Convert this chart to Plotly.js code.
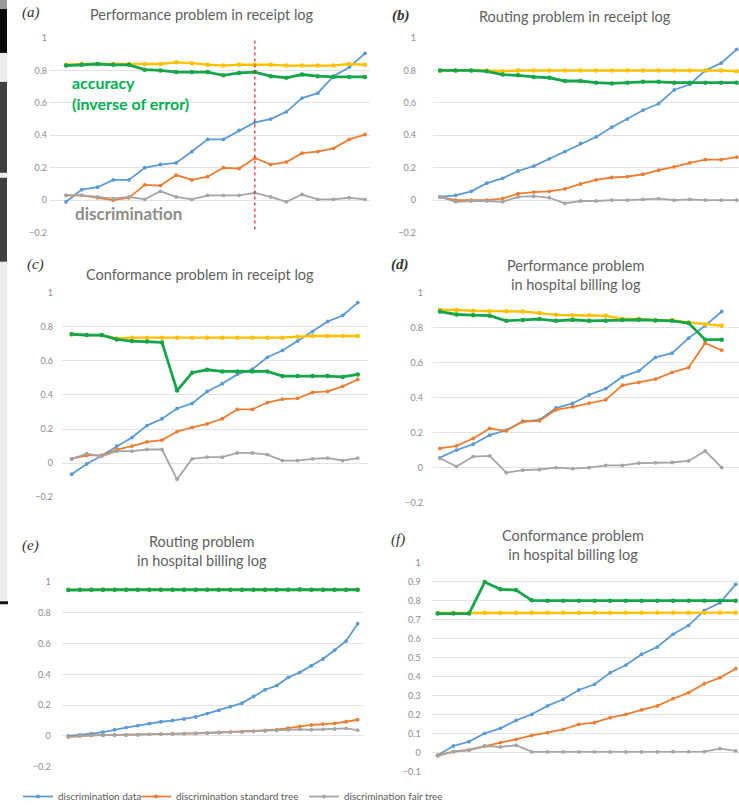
<!DOCTYPE html>
<html>
<head>
<meta charset="utf-8">
<script src="https://cdn.plot.ly/plotly-3.0.1.min.js"></script>
<style>
html,body{margin:0;padding:0;background:#fff;}
#chart{width:739px;height:811px;}
</style>
</head>
<body>
<div id="chart"></div>
<script>
// ---------- data ----------
const seriesNames = ["discrimination data", "discrimination standard tree", "discrimination fair tree", "accuracy standard tree", "accuracy fair tree"];

// (a) Performance problem in receipt log
const a_blue   = [-0.01, 0.065, 0.08, 0.125, 0.125, 0.2, 0.22, 0.23, 0.3, 0.375, 0.375, 0.43, 0.48, 0.5, 0.545, 0.63, 0.66, 0.765, 0.82, 0.905];
const a_orange = [0.03, 0.03, 0.015, 0.0, 0.015, 0.095, 0.09, 0.155, 0.125, 0.145, 0.2, 0.195, 0.26, 0.22, 0.235, 0.29, 0.3, 0.32, 0.375, 0.405];
const a_gray   = [0.03, 0.03, 0.02, 0.01, 0.02, 0.005, 0.055, 0.02, 0.005, 0.03, 0.03, 0.03, 0.045, 0.02, -0.01, 0.035, 0.005, 0.005, 0.015, 0.005];
const a_yellow = [0.835, 0.84, 0.84, 0.84, 0.84, 0.84, 0.84, 0.85, 0.845, 0.835, 0.83, 0.835, 0.835, 0.835, 0.83, 0.83, 0.83, 0.83, 0.84, 0.835];
const a_green  = [0.83, 0.835, 0.84, 0.835, 0.835, 0.805, 0.8, 0.79, 0.79, 0.79, 0.77, 0.785, 0.79, 0.765, 0.755, 0.775, 0.765, 0.76, 0.76, 0.76];
const a_splitIndex = 12;

// (b) Routing problem in receipt log
const b_blue   = [0.02, 0.03, 0.055, 0.105, 0.135, 0.18, 0.21, 0.255, 0.3, 0.35, 0.39, 0.45, 0.5, 0.555, 0.595, 0.68, 0.715, 0.8, 0.845, 0.93];
const b_orange = [0.02, 0.0, 0.0, 0.0, 0.01, 0.04, 0.05, 0.055, 0.07, 0.1, 0.125, 0.14, 0.145, 0.16, 0.185, 0.205, 0.23, 0.25, 0.25, 0.265];
const b_gray   = [0.02, -0.01, -0.005, -0.005, -0.01, 0.02, 0.025, 0.015, -0.02, -0.005, -0.005, 0.0, 0.0, 0.005, 0.01, 0.0, 0.005, 0.0, 0.0, 0.0];
const b_yellow = [0.8, 0.8, 0.8, 0.8, 0.795, 0.8, 0.8, 0.8, 0.8, 0.8, 0.8, 0.8, 0.8, 0.8, 0.8, 0.8, 0.8, 0.8, 0.8, 0.795];
const b_green  = [0.8, 0.8, 0.8, 0.795, 0.775, 0.77, 0.76, 0.755, 0.735, 0.735, 0.725, 0.72, 0.725, 0.73, 0.73, 0.725, 0.725, 0.725, 0.725, 0.725];

// (c) Conformance problem in receipt log
const c_blue   = [-0.065, -0.005, 0.045, 0.1, 0.15, 0.22, 0.26, 0.32, 0.35, 0.42, 0.465, 0.52, 0.55, 0.62, 0.66, 0.715, 0.77, 0.83, 0.865, 0.94];
const c_orange = [0.025, 0.045, 0.045, 0.08, 0.1, 0.125, 0.135, 0.185, 0.21, 0.23, 0.26, 0.315, 0.315, 0.355, 0.375, 0.38, 0.415, 0.42, 0.45, 0.49];
const c_gray   = [0.025, 0.055, 0.04, 0.07, 0.07, 0.08, 0.08, -0.095, 0.025, 0.035, 0.035, 0.06, 0.06, 0.05, 0.015, 0.015, 0.025, 0.03, 0.015, 0.03];
const c_yellow = [0.755, 0.75, 0.75, 0.73, 0.735, 0.735, 0.735, 0.735, 0.735, 0.735, 0.735, 0.735, 0.735, 0.735, 0.735, 0.74, 0.745, 0.745, 0.745, 0.745];
const c_green  = [0.755, 0.75, 0.75, 0.725, 0.715, 0.713, 0.707, 0.425, 0.53, 0.547, 0.537, 0.537, 0.537, 0.537, 0.51, 0.51, 0.51, 0.51, 0.505, 0.52];

// (d) Performance problem in hospital billing log
const d_blue   = [0.057, 0.1, 0.133, 0.185, 0.213, 0.263, 0.272, 0.34, 0.366, 0.415, 0.451, 0.518, 0.552, 0.629, 0.653, 0.739, 0.81, 0.891];
const d_orange = [0.109, 0.124, 0.166, 0.223, 0.21, 0.263, 0.267, 0.33, 0.347, 0.368, 0.387, 0.47, 0.486, 0.505, 0.543, 0.571, 0.71, 0.67];
const d_gray   = [0.053, 0.006, 0.063, 0.067, -0.029, -0.015, -0.011, 0.0, -0.006, 0.0, 0.013, 0.013, 0.025, 0.027, 0.029, 0.038, 0.095, 0.0];
const d_yellow = [0.9, 0.9, 0.895, 0.893, 0.893, 0.891, 0.882, 0.872, 0.87, 0.87, 0.867, 0.848, 0.848, 0.842, 0.842, 0.829, 0.819, 0.81];
const d_green  = [0.891, 0.874, 0.87, 0.867, 0.838, 0.842, 0.848, 0.838, 0.844, 0.838, 0.838, 0.842, 0.844, 0.84, 0.838, 0.825, 0.73, 0.73];

// (e) Routing problem in hospital billing log
const e_blue   = [0.0, 0.006, 0.015, 0.024, 0.04, 0.054, 0.067, 0.08, 0.092, 0.1, 0.11, 0.123, 0.145, 0.166, 0.19, 0.213, 0.256, 0.3, 0.327, 0.38, 0.413, 0.456, 0.5, 0.557, 0.617, 0.729];
const e_orange = [-0.006, 0.0, 0.003, 0.005, 0.006, 0.006, 0.008, 0.01, 0.012, 0.014, 0.015, 0.017, 0.019, 0.022, 0.024, 0.027, 0.03, 0.035, 0.04, 0.05, 0.062, 0.071, 0.077, 0.082, 0.092, 0.105];
const e_gray   = [-0.006, 0.0, 0.003, 0.005, 0.006, 0.006, 0.008, 0.01, 0.012, 0.014, 0.015, 0.017, 0.019, 0.022, 0.024, 0.027, 0.03, 0.033, 0.036, 0.04, 0.043, 0.04, 0.043, 0.045, 0.049, 0.037];
const e_yellow = [0.95, 0.95, 0.95, 0.95, 0.95, 0.95, 0.95, 0.95, 0.95, 0.95, 0.95, 0.95, 0.95, 0.95, 0.95, 0.95, 0.95, 0.95, 0.95, 0.95, 0.95, 0.95, 0.95, 0.95, 0.95, 0.95];
const e_green  = [0.948, 0.95, 0.95, 0.95, 0.95, 0.95, 0.95, 0.95, 0.95, 0.95, 0.95, 0.95, 0.95, 0.95, 0.95, 0.95, 0.95, 0.95, 0.95, 0.95, 0.953, 0.95, 0.95, 0.95, 0.95, 0.95];

// (f) Conformance problem in hospital billing log
const f_blue   = [-0.014, 0.035, 0.058, 0.102, 0.128, 0.17, 0.202, 0.246, 0.281, 0.33, 0.36, 0.421, 0.461, 0.518, 0.556, 0.623, 0.67, 0.749, 0.789, 0.886];
const f_orange = [-0.014, 0.005, 0.014, 0.035, 0.053, 0.07, 0.091, 0.105, 0.123, 0.149, 0.158, 0.184, 0.202, 0.225, 0.246, 0.284, 0.316, 0.363, 0.395, 0.442];
const f_gray   = [-0.018, 0.005, 0.014, 0.035, 0.03, 0.039, 0.004, 0.004, 0.004, 0.004, 0.004, 0.004, 0.004, 0.004, 0.004, 0.005, 0.005, 0.005, 0.021, 0.009];
const f_yellow = [0.735, 0.735, 0.735, 0.737, 0.737, 0.737, 0.737, 0.737, 0.737, 0.737, 0.737, 0.737, 0.737, 0.737, 0.737, 0.737, 0.737, 0.737, 0.737, 0.737];
const f_green  = [0.732, 0.732, 0.732, 0.898, 0.86, 0.856, 0.802, 0.8, 0.8, 0.8, 0.8, 0.8, 0.8, 0.8, 0.8, 0.8, 0.8, 0.8, 0.8, 0.8];

const panelTitles = [
  "Performance problem in receipt log",
  "Routing problem in receipt log",
  "Conformance problem in receipt log",
  "Performance problem<br>in hospital billing log",
  "Routing problem<br>in hospital billing log",
  "Conformance problem<br>in hospital billing log"
];
const panelLetters = ["(a)", "(b)", "(c)", "(d)", "(e)", "(f)"];

// ---------- styling / layout ----------
const W = 739, H = 811;
const fx = p => p / W;
const fy = p => 1 - p / H;
const colors = ["#5b9bd5", "#ed7d31", "#a5a5a5", "#ffc000", "#16a64a"];
const lineW = [1.8, 1.8, 1.8, 2.4, 2.8];

const panels = [
  {s:[a_blue,a_orange,a_gray,a_yellow,a_green], px:[50,370],  py:[38,233],    xr:[-1.02,19.32], yr:[-0.2,1], dt:0.2, so:2},
  {s:[b_blue,b_orange,b_gray,b_yellow,b_green], px:[433,739], py:[38,233],    xr:[-0.45,19.15], yr:[-0.2,1], dt:0.2, so:16},
  {s:[c_blue,c_orange,c_gray,c_yellow,c_green], px:[62,368],  py:[292.7,498], xr:[-0.64,19.68], yr:[-0.2,1], dt:0.2, so:8},
  {s:[d_blue,d_orange,d_gray,d_yellow,d_green], px:[433,739], py:[292.7,503.3], xr:[-0.42,18.04], yr:[-0.2,1], dt:0.2, so:9},
  {s:[e_blue,e_orange,e_gray,e_yellow,e_green], px:[61.7,363], py:[582.7,767.7], xr:[-0.57,25.46], yr:[-0.2,1], dt:0.2, so:10},
  {s:[f_blue,f_orange,f_gray,f_yellow,f_green], px:[431.7,739], py:[563.3,772.7], xr:[-0.38,19.21], yr:[-0.1,1], dt:0.1, so:10}
];

const traces = [];
const layout = {
  width: W, height: H,
  margin: {l:0, r:0, t:0, b:0},
  paper_bgcolor: "#ffffff",
  plot_bgcolor: "rgba(0,0,0,0)",
  font: {family: "Lato, 'Open Sans', sans-serif", color: "#595959"},
  annotations: [],
  shapes: []
};

// series drawn in spreadsheet order: later series on top
const order = [0, 1, 2, 3, 4];
const legendFor = ["legend", "legend2", "legend3"];
panels.forEach((p, k) => {
  const n = k === 0 ? "" : String(k + 1);
  const xa = "x" + n, ya = "y" + n;
  layout["xaxis" + n] = {
    domain: [fx(p.px[0]), fx(p.px[1])], range: p.xr, anchor: ya,
    showgrid: false, zeroline: false, showline: false, showticklabels: false, ticks: "", fixedrange: true
  };
  layout["yaxis" + n] = {
    domain: [fy(p.py[1]), fy(p.py[0])], range: [p.yr[0] - 0.0005, p.yr[1] + 0.0005], anchor: xa,
    dtick: p.dt, tick0: 0, showgrid: true, gridcolor: "#e3e3e3", gridwidth: 1,
    zeroline: false, showline: false, ticks: "", ticklabelstandoff: p.so,
    tickfont: {size: 9, color: "#8c8c8c", family: "Lato, sans-serif"}, fixedrange: true
  };
  order.forEach(si => {
    const vals = p.s[si];
    traces.push({
      type: "scatter", mode: "lines+markers",
      x: vals.map((_, i) => i), y: vals,
      xaxis: xa, yaxis: ya,
      name: seriesNames[si],
      line: {color: colors[si], width: lineW[si]},
      marker: {color: colors[si], size: si >= 3 ? 4.5 : 3.8, symbol: "circle", line: {width: 0}},
      showlegend: k === 0 && si < 3,
      legend: si < 3 ? legendFor[si] : "legend",
      cliponaxis: true,
      hoverinfo: "skip"
    });
  });
});

// panel titles
const titlePos = [[202, 15], [575, 17], [200, 275], [575, 275], [202, 552], [573, 546]];
panelTitles.forEach((t, k) => {
  layout.annotations.push({
    text: t, xref: "paper", yref: "paper", x: fx(titlePos[k][0]), y: fy(titlePos[k][1]),
    xanchor: "center", yanchor: "middle", showarrow: false, align: "center",
    font: {size: 14.5, color: "#5f5f5f", family: "Lato, sans-serif"}
  });
});
const letterPos = [[31, 13], [401, 16], [35, 265], [400, 265], [30, 546], [398, 540]];
panelLetters.forEach((t, k) => {
  const bold = (k === 1 || k === 3);
  layout.annotations.push({
    text: bold ? "<b><i>" + t + "</i></b>" : "<i>" + t + "</i>",
    xref: "paper", yref: "paper", x: fx(letterPos[k][0]), y: fy(letterPos[k][1]),
    xanchor: "center", yanchor: "middle", showarrow: false,
    font: {size: 15, color: "#333333", family: "'Liberation Serif', 'DejaVu Serif', serif"}
  });
});

// in-plot labels of panel (a)
layout.annotations.push({
  text: "<b>accuracy<br>(inverse of error)</b>", xref: "paper", yref: "paper",
  x: fx(70), y: fy(93), xanchor: "left", yanchor: "middle", align: "left", showarrow: false,
  font: {size: 16, color: "#00b050", family: "Lato, sans-serif"}
});
layout.annotations.push({
  text: "<b>discrimination</b>", xref: "paper", yref: "paper",
  x: fx(73), y: fy(214), xanchor: "left", yanchor: "middle", showarrow: false,
  font: {size: 17, color: "#8c8c8c", family: "Lato, sans-serif"}
});

// split line in panel (a)
layout.shapes.push({
  type: "line", xref: "x", yref: "y", x0: a_splitIndex, x1: a_splitIndex, y0: -0.18, y1: 1.0,
  line: {color: "#e02020", width: 1.2, dash: "dot"}
});

// scan-edge strip on left
layout.shapes.push({type:"rect", xref:"paper", yref:"paper", x0:0, x1:fx(7), y0:fy(603), y1:1, fillcolor:"#ececec", line:{width:0}, layer:"below"});
layout.shapes.push({type:"rect", xref:"paper", yref:"paper", x0:0, x1:fx(7), y0:fy(9), y1:1, fillcolor:"#9a9a9a", line:{width:0}});
layout.shapes.push({type:"rect", xref:"paper", yref:"paper", x0:0, x1:fx(7), y0:fy(53), y1:fy(9), fillcolor:"#0a0a0a", line:{width:0}});
layout.shapes.push({type:"rect", xref:"paper", yref:"paper", x0:0, x1:fx(7), y0:fy(173), y1:fy(82), fillcolor:"#404040", line:{width:0}});
layout.shapes.push({type:"rect", xref:"paper", yref:"paper", x0:0, x1:fx(7), y0:fy(262), y1:fy(178), fillcolor:"#404040", line:{width:0}});
layout.shapes.push({type:"rect", xref:"paper", yref:"paper", x0:0, x1:fx(8), y0:fy(605), y1:fy(602), fillcolor:"#111111", line:{width:0}});

// legends
const legBase = {orientation: "h", yanchor: "middle", xanchor: "left", bgcolor: "rgba(0,0,0,0)",
  itemwidth: 30, font: {size: 10, color: "#595959", family: "Lato, sans-serif"}, itemclick: false, itemdoubleclick: false};
layout.legend  = Object.assign({}, legBase, {x: fx(18),  y: fy(797)});
layout.legend2 = Object.assign({}, legBase, {x: fx(136), y: fy(797)});
layout.legend3 = Object.assign({}, legBase, {x: fx(304), y: fy(797)});

Plotly.newPlot("chart", traces, layout, {staticPlot: true, displayModeBar: false});
</script>
</body>
</html>
